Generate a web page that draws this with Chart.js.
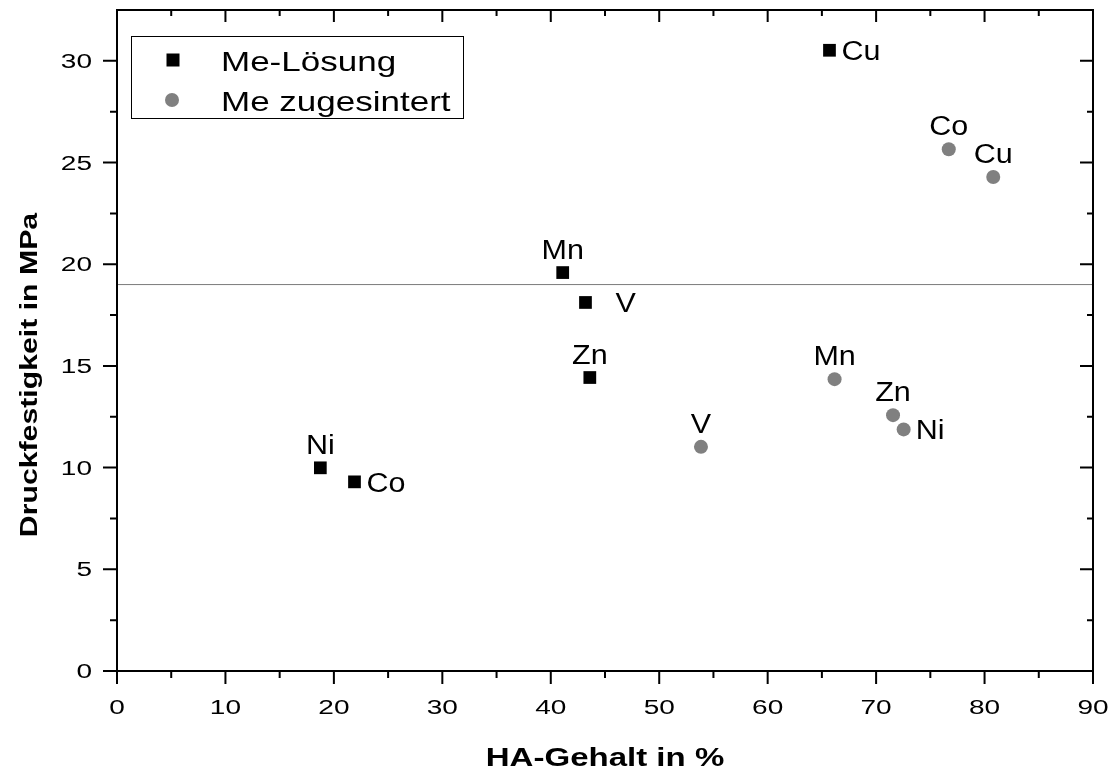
<!DOCTYPE html>
<html><head><meta charset="utf-8">
<script src="https://cdn.jsdelivr.net/npm/chart.js@4.4.1/dist/chart.umd.min.js"></script>
<style>html,body{margin:0;padding:0;background:#fff;} canvas{display:block;}</style>
</head><body>
<canvas id="c" width="1115" height="769"></canvas>
<script>
// ---- data ----
const seriesNames = ['Me-Lösung', 'Me zugesintert'];
const loesungElements = ['Ni', 'Co', 'Mn', 'V', 'Zn', 'Cu'];
const loesungX = [18.75, 21.9, 41.1, 43.2, 43.6, 65.7];
const loesungY = [9.99, 9.30, 19.59, 18.12, 14.43, 30.52];
const sinterElements = ['V', 'Mn', 'Zn', 'Ni', 'Co', 'Cu'];
const sinterX = [53.85, 66.17, 71.56, 72.54, 76.7, 80.8];
const sinterY = [11.02, 14.35, 12.58, 11.88, 25.65, 24.29];
const refLineX = [0, 90];
const refLineY = [19, 19];
const xTickValues = [0, 10, 20, 30, 40, 50, 60, 70, 80, 90];
const yTickValues = [0, 5, 10, 15, 20, 25, 30];
const xTitle = 'HA-Gehalt in %';
const yTitle = 'Druckfestigkeit in MPa';

// ---- styles (label placement) ----
const loesungLabelPos = ['above', 'right', 'above', 'rightFar', 'above', 'right'];
const sinterLabelPos = ['above', 'above', 'above', 'right', 'above', 'above'];

const FONT = '"Liberation Sans", Arial, sans-serif';
const S_TICK = 1.4, S_LEG = 1.25, S_LAB = 1.13, S_XT = 1.27, S_YT = 1.26;

function sText(ctx, text, x, y, align, sx) {
  ctx.save();
  ctx.translate(x, y);
  ctx.scale(sx, 1);
  ctx.textAlign = align;
  ctx.textBaseline = 'alphabetic';
  ctx.fillText(text, 0, 0);
  ctx.restore();
}
function minors(v) {
  const m = [];
  for (let i = 0; i < v.length - 1; i++) m.push((v[i] + v[i + 1]) / 2);
  return m;
}

const framePlugin = {
  id: 'frame',
  afterDatasetsDraw(chart) {
    const ctx = chart.ctx;
    const { left, right, top, bottom } = chart.chartArea;
    const xs = chart.scales.x, ys = chart.scales.y;
    const xv = xs.ticks.map(t => t.value), yv = ys.ticks.map(t => t.value);
    ctx.save();
    ctx.strokeStyle = '#000';
    ctx.lineWidth = 2;
    ctx.lineCap = 'butt';
    ctx.strokeRect(left, top, right - left, bottom - top);
    ctx.beginPath();
    xv.forEach(v => {
      const p = xs.getPixelForValue(v);
      ctx.moveTo(p, bottom); ctx.lineTo(p, bottom + 13);
      ctx.moveTo(p, top); ctx.lineTo(p, top + 12);
    });
    minors(xv).forEach(v => {
      const p = xs.getPixelForValue(v);
      ctx.moveTo(p, bottom); ctx.lineTo(p, bottom + 7);
      ctx.moveTo(p, top); ctx.lineTo(p, top + 6);
    });
    yv.forEach(v => {
      const p = ys.getPixelForValue(v);
      ctx.moveTo(left, p); ctx.lineTo(left - 14, p);
      ctx.moveTo(right, p); ctx.lineTo(right - 13, p);
    });
    minors(yv).forEach(v => {
      const p = ys.getPixelForValue(v);
      ctx.moveTo(left, p); ctx.lineTo(left - 7, p);
      ctx.moveTo(right, p); ctx.lineTo(right - 6, p);
    });
    ctx.stroke();

    // tick labels
    ctx.fillStyle = '#000';
    ctx.font = '20px ' + FONT;
    xs.ticks.forEach(t => {
      sText(ctx, String(t.value), xs.getPixelForValue(t.value), bottom + 43, 'center', S_TICK);
    });
    ys.ticks.forEach(t => {
      sText(ctx, String(t.value), left - 25, ys.getPixelForValue(t.value) + 7, 'right', S_TICK);
    });

    // axis titles
    ctx.font = 'bold 26px ' + FONT;
    sText(ctx, xTitle, (left + right) / 2, 766, 'center', S_XT);
    ctx.save();
    ctx.translate(37, 375);
    ctx.rotate(-Math.PI / 2);
    ctx.font = 'bold 24px ' + FONT;
    sText(ctx, yTitle, 0, 0, 'center', S_YT);
    ctx.restore();

    // point labels
    ctx.font = '27px ' + FONT;
    const groups = [[0, loesungElements, loesungLabelPos], [1, sinterElements, sinterLabelPos]];
    groups.forEach(([di, names, pos]) => {
      const meta = chart.getDatasetMeta(di);
      meta.data.forEach((el, i) => {
        const px = el.x, py = el.y;
        if (pos[i] === 'above') sText(ctx, names[i], px, py - 14, 'center', S_LAB);
        else if (pos[i] === 'right') sText(ctx, names[i], px + 12, py + 10, 'left', S_LAB);
        else sText(ctx, names[i], px + 30, py + 10, 'left', S_LAB);
      });
    });

    // legend
    ctx.lineWidth = 1;
    ctx.strokeStyle = '#000';
    ctx.strokeRect(131.5, 36.5, 332, 82);
    const ds = chart.data.datasets;
    ctx.fillStyle = ds[0].backgroundColor;
    ctx.fillRect(173 - 6.5, 60 - 6.5, 13, 13);
    ctx.fillStyle = ds[1].backgroundColor;
    ctx.beginPath(); ctx.arc(172, 100, 7, 0, Math.PI * 2); ctx.fill();
    ctx.fillStyle = '#000';
    ctx.font = '28px ' + FONT;
    sText(ctx, ds[0].label, 221, 70.5, 'left', S_LEG);
    sText(ctx, ds[1].label, 221, 110.5, 'left', S_LEG);
    ctx.restore();
  }
};

new Chart(document.getElementById('c'), {
  type: 'scatter',
  data: {
    datasets: [
      {
        label: seriesNames[0],
        data: loesungX.map((v, i) => ({ x: v, y: loesungY[i] })),
        pointStyle: 'rect', pointRadius: 9, backgroundColor: '#000000', borderWidth: 0, order: 1
      },
      {
        label: seriesNames[1],
        data: sinterX.map((v, i) => ({ x: v, y: sinterY[i] })),
        pointStyle: 'circle', pointRadius: 7, backgroundColor: '#808080', borderWidth: 0, order: 1
      },
      {
        type: 'line', label: 'ref',
        data: refLineX.map((v, i) => ({ x: v, y: refLineY[i] })),
        borderColor: '#7a7a7a', borderWidth: 1, pointRadius: 0, showLine: true, fill: false, order: 2
      }
    ]
  },
  options: {
    responsive: false,
    devicePixelRatio: 1,
    animation: false,
    events: [],
    layout: { padding: { top: 10, right: 22, left: 0, bottom: 0 } },
    plugins: { legend: { display: false }, tooltip: { enabled: false } },
    scales: {
      x: {
        type: 'linear', min: 0, max: 90,
        grid: { display: false }, border: { display: false },
        ticks: { display: false },
        afterBuildTicks: s => { s.ticks = xTickValues.map(v => ({ value: v })); },
        afterFit: s => { s.height = 98; }
      },
      y: {
        type: 'linear', min: 0, max: 32.5,
        grid: { display: false }, border: { display: false },
        ticks: { display: false },
        afterBuildTicks: s => { s.ticks = yTickValues.map(v => ({ value: v })); },
        afterFit: s => { s.width = 117; }
      }
    }
  },
  plugins: [framePlugin]
});
</script>
</body></html>
